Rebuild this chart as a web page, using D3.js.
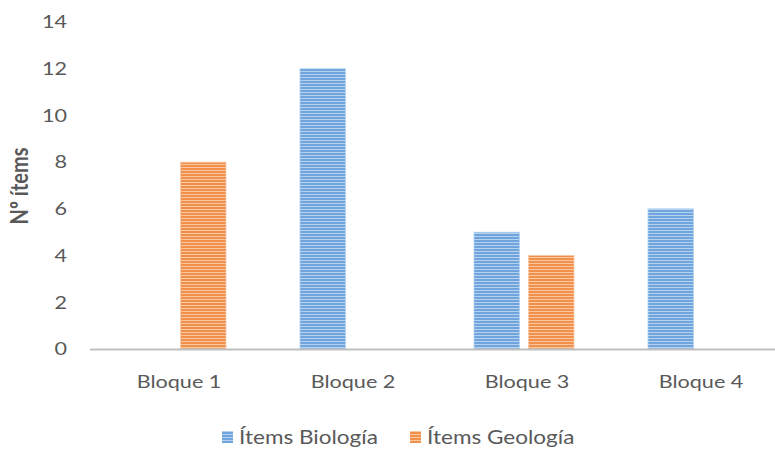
<!DOCTYPE html>
<html><head><meta charset="utf-8">
<script src="https://cdn.jsdelivr.net/npm/d3@7"></script>
<style>body{margin:0;background:#fff}svg{display:block}</style>
</head><body>
<svg id="c" width="775" height="450"></svg>
<script>
const categories = ["Bloque 1","Bloque 2","Bloque 3","Bloque 4"];
const seriesNames = ["Ítems Biología","Ítems Geología"];
const biologia = [0,12,5,6];
const geologia = [8,0,4,0];
const yTicks = [0,2,4,6,8,10,12,14];

const svg = d3.select("#c");
const font = "Lato, 'Open Sans', sans-serif";
const textCol = "#595959";
const colors = {base:["#6fa5dc","#f1904a"], light:["#b4d1f0","#f9c8a3"]};
const SX = 1.2;

const defs = svg.append("defs");
[0,1].forEach(i=>{
  const p = defs.append("pattern").attr("id","pat"+i).attr("patternUnits","userSpaceOnUse")
    .attr("width",6).attr("height",3);
  p.append("rect").attr("width",6).attr("height",3).attr("fill",colors.base[i]);
  p.append("rect").attr("y",2).attr("width",6).attr("height",1).attr("fill",colors.light[i]);
});

const x0 = d3.scaleBand().domain(categories).range([89,785]).padding(0);
const x1 = d3.scaleBand().domain(seriesNames).range([37,137]).paddingInner(0.165).paddingOuter(0);
const y = d3.scaleLinear().domain([0,14]).range([349,22]);

const data = categories.map((c,i)=>({cat:c, vals:[biologia[i],geologia[i]]}));

const g = svg.append("g");
data.forEach(d=>{
  d.vals.forEach((v,j)=>{
    if(v<=0) return;
    g.append("rect")
      .attr("x", x0(d.cat)+x1(seriesNames[j]))
      .attr("y", y(v))
      .attr("width", x1.bandwidth())
      .attr("height", y(0)-y(v))
      .attr("fill","url(#pat"+j+")")
      .attr("stroke", colors.light[j]).attr("stroke-width",0.8);
  });
});

// x axis line
svg.append("line").attr("x1",90).attr("x2",775).attr("y1",y(0)+0.5).attr("y2",y(0)+0.5)
  .attr("stroke","#bfbfbf").attr("stroke-width",2);

function txt(x, yy, s, anchor, size, weight){
  return svg.append("text")
    .attr("transform",`translate(${x},${yy}) scale(${SX},1)`)
    .attr("dy","0.35em").attr("text-anchor",anchor)
    .attr("font-family",font).attr("font-size",size).attr("font-weight",weight||"normal")
    .attr("fill",textCol).text(s);
}

// y tick labels
yTicks.forEach(t=>txt(67, y(t), t, "end", 18));

// x labels
categories.forEach(c=>txt(x0(c)+x0.bandwidth()/2+3, 382, c, "middle", 18));

// y title
svg.append("text").attr("transform","translate(20,186) rotate(-90) scale(1,1.2)")
  .attr("dy","0.35em").attr("text-anchor","middle").attr("font-family",font).attr("font-size",20).attr("font-weight","bold")
  .attr("fill",textCol).text("Nº ítems");

// legend
const legX = [222,410];
seriesNames.forEach((s,i)=>{
  svg.append("rect").attr("x",legX[i]).attr("y",431).attr("width",11).attr("height",12)
    .attr("fill","url(#pat"+i+")");
  txt(legX[i]+17, 437, s, "start", 18.8);
});
</script>
</body></html>
